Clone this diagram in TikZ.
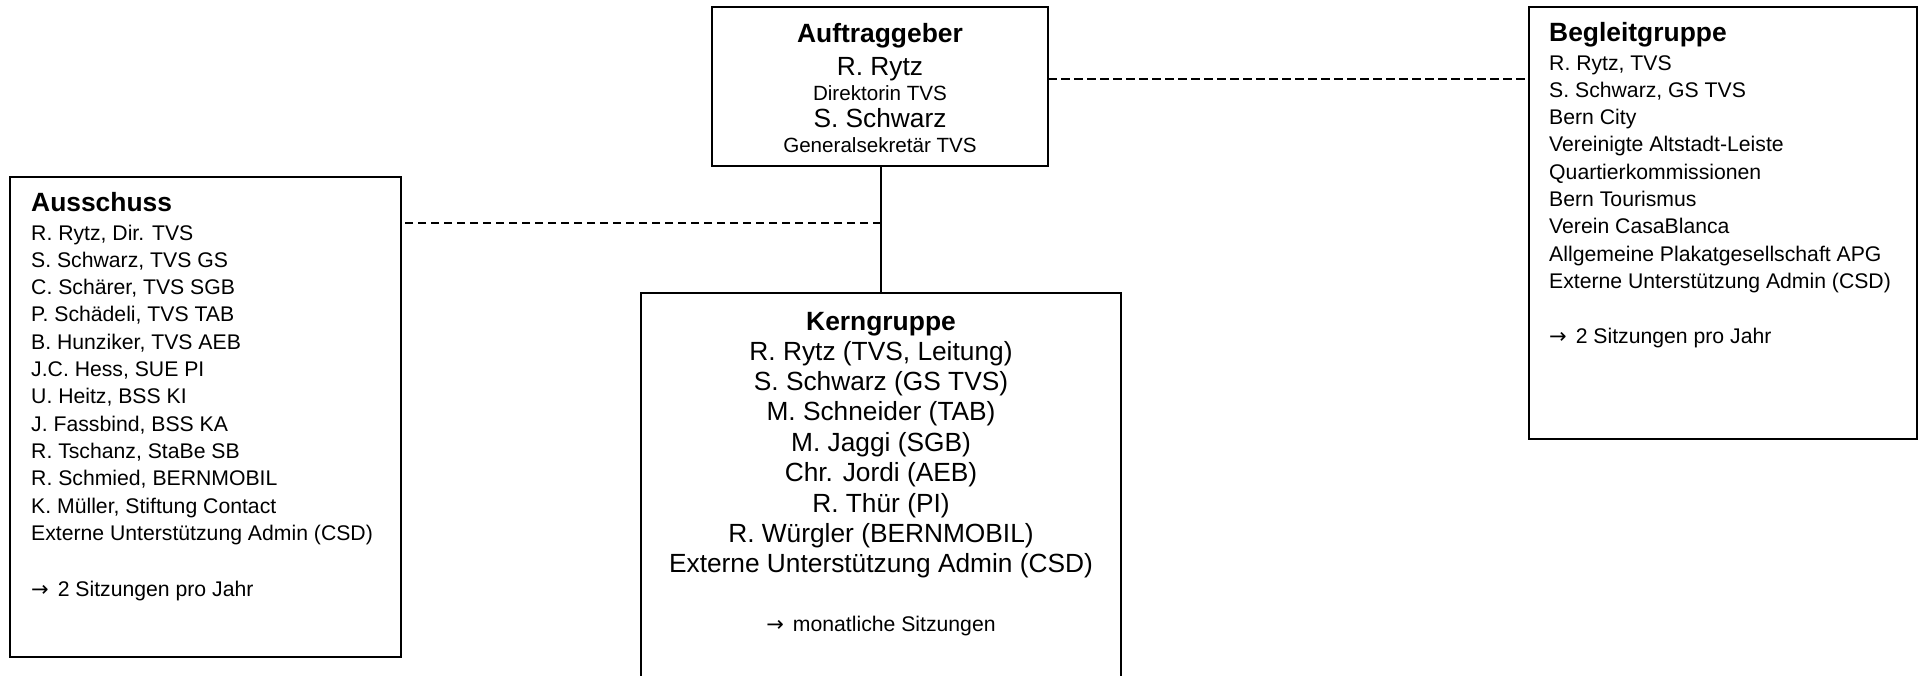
\documentclass[tikz,border=0pt]{standalone}
\usepackage{fontspec}
\setmainfont{Liberation Sans}
\newfontfamily\arrowfont{DejaVu Sans}
\newcommand{\fttl}{\fontsize{26.4}{30}\selectfont\bfseries}
\newcommand{\fbig}{\fontsize{26.3}{30}\selectfont}
\newcommand{\fsml}{\fontsize{21.2}{25}\selectfont}
\newcommand{\faux}{\fontsize{20.6}{24}\selectfont}
\newcommand{\rarr}{{\arrowfont\fontsize{21}{24}\selectfont →}\hspace{9pt}}
\begin{document}
\begin{tikzpicture}[x=1pt,y=-1pt,
  box/.style={draw, line width=1.5pt, inner sep=0pt, outer sep=0pt, anchor=north west},
  lt/.style={anchor=base west, inner sep=0pt},
  ct/.style={anchor=base, inner sep=0pt},
  conn/.style={line width=1.5pt},
  dconn/.style={line width=1.5pt, dash pattern=on 8.5pt off 4.5pt}]
\useasboundingbox (0,0) rectangle (1921,675);
\clip (0,0) rectangle (1921,675);
\fill[white] (0,0) rectangle (1921,675);

% boxes
\node[box, minimum width=336pt, minimum height=159pt] (auf) at (712,7) {};
\node[box, minimum width=391pt, minimum height=480pt] (aus) at (10,177) {};
\node[box, minimum width=480pt, minimum height=450pt] (kern) at (641,293) {};
\node[box, minimum width=388pt, minimum height=432pt] (beg) at (1529,7) {};

% Auftraggeber
\node[ct, font=\fttl] (auf0) at (880,42.7) {Auftraggeber};
\node[ct, font=\fbig] (auf1) at (880,75) {R. Rytz};
\node[ct, font=\faux] (auf2) at (880,100) {Direktorin TVS};
\node[ct, font=\fbig] (auf3) at (880,127.5) {S. Schwarz};
\node[ct, font=\faux] (auf4) at (880,152) {Generalsekretär TVS};

% Ausschuss
\node[lt, font=\fttl] (aus0) at (31,211.7) {Ausschuss};
\foreach \t [count=\i] in {{R. Rytz, Dir. TVS},{S. Schwarz, TVS GS},{C. Schärer, TVS SGB},
  {P. Schädeli, TVS TAB},{B. Hunziker, TVS AEB},{J.C. Hess, SUE PI},{U. Heitz, BSS KI},
  {J. Fassbind, BSS KA},{R. Tschanz, StaBe SB},{R. Schmied, BERNMOBIL},
  {K. Müller, Stiftung Contact},{Externe Unterstützung Admin (CSD)}}
  \node[lt, font=\fsml] (aus\i) at (31,{240+27.3*(\i-1)}) {\t};
\node[lt, font=\fsml] (ausS) at (31,596) {\rarr 2 Sitzungen pro Jahr};

% Begleitgruppe
\node[lt, font=\fttl] (beg0) at (1549,41.7) {Begleitgruppe};
\foreach \t [count=\i] in {{R. Rytz, TVS},{S. Schwarz, GS TVS},{Bern City},
  {Vereinigte Altstadt-Leiste},{Quartierkommissionen},{Bern Tourismus},
  {Verein CasaBlanca},{Allgemeine Plakatgesellschaft APG},{Externe Unterstützung Admin (CSD)}}
  \node[lt, font=\fsml] (beg\i) at (1549,{70+27.3*(\i-1)}) {\t};
\node[lt, font=\fsml] (begS) at (1549,343) {\rarr 2 Sitzungen pro Jahr};

% Kerngruppe
\node[ct, font=\fttl] (kern0) at (881,330) {Kerngruppe};
\foreach \t [count=\i] in {{R. Rytz (TVS, Leitung)},{S. Schwarz (GS TVS)},{M. Schneider (TAB)},
  {M. Jaggi (SGB)},{Chr. Jordi (AEB)},{R. Thür (PI)},{R. Würgler (BERNMOBIL)},
  {Externe Unterstützung Admin (CSD)}}
  \node[ct, font=\fbig] (kern\i) at (881,{360+30.4*(\i-1)}) {\t};
\node[ct, font=\fsml] (kernS) at (881,631.5) {\rarr monatliche Sitzungen};

% connectors
\draw[conn] (auf.south -| kern.north) -- (kern.north);
\coordinate (j) at (881,223);
\draw[dconn] (j) -- (j -| aus.east);
\draw[dconn] ([yshift=7.5pt]auf.east) -- ([yshift=7.5pt]auf.east -| beg.west);
\end{tikzpicture}
\end{document}
